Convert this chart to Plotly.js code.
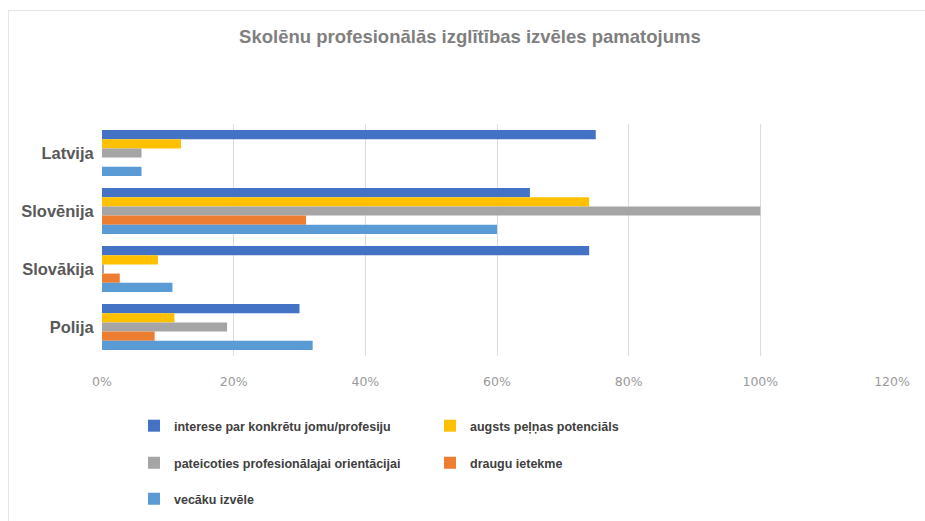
<!DOCTYPE html>
<html>
<head>
<meta charset="utf-8">
<script src="https://cdn.plot.ly/plotly-3.0.1.min.js"></script>
<style>
html,body{margin:0;padding:0;background:#fff;overflow:hidden;width:925px;height:521px;}
#frame{position:absolute;left:8px;top:10px;width:960px;height:560px;border:1px solid #e6e6e6;box-sizing:border-box;}
#chart{position:absolute;left:0;top:0;width:925px;height:521px;}
</style>
</head>
<body>
<div id="frame"></div>
<div id="chart"></div>
<script>
const countries = ["Latvija", "Slovēnija", "Slovākija", "Polija"];
const seriesNames = [
  "interese par konkrētu jomu/profesiju",
  "augsts peļņas potenciāls",
  "pateicoties profesionālajai orientācijai",
  "draugu ietekme",
  "vecāku izvēle"
];
const interese = [0.75, 0.65, 0.74, 0.30];
const augsts = [0.12, 0.74, 0.085, 0.11];
const pateicoties = [0.06, 1.00, 0.003, 0.19];
const draugu = [0.0, 0.31, 0.027, 0.08];
const vecaku = [0.06, 0.60, 0.107, 0.32];
const xTicks = [0, 0.2, 0.4, 0.6, 0.8, 1.0, 1.2];
const xTickLabels = ["0%", "20%", "40%", "60%", "80%", "100%", "120%"];

const colors = ["#4472C4", "#FFC000", "#A5A5A5", "#ED7D31", "#5B9BD5"];
const values = [interese, augsts, pateicoties, draugu, vecaku];
const legends = ["legend", "legend", "legend2", "legend2", "legend3"];

const traces = values.map((v, i) => ({
  type: "bar",
  orientation: "h",
  name: seriesNames[i],
  x: v,
  y: countries,
  marker: {color: colors[i]},
  legend: legends[i],
  hoverinfo: "x+name"
}));

const legendBase = {
  orientation: "h",
  x: 0.0405,
  xanchor: "left",
  yanchor: "middle",
  entrywidth: 251,
  entrywidthmode: "pixels",
  font: {family: "Liberation Sans, Arial, sans-serif", size: 12.5, color: "#404040", weight: "bold"},
  bgcolor: "rgba(0,0,0,0)",
  traceorder: "normal"
};

const layout = {
  width: 925,
  height: 521,
  margin: {l: 102, r: 33, t: 124, b: 165, autoexpand: false},
  paper_bgcolor: "rgba(0,0,0,0)",
  plot_bgcolor: "#fff",
  barmode: "group",
  bargap: 0.21,
  bargroupgap: 0,
  title: {
    text: "<b>Skolēnu profesionālās izglītības izvēles pamatojums</b>",
    font: {family: "Liberation Sans, Arial, sans-serif", size: 18.5, color: "#7f7f7f"},
    x: 0.508, xanchor: "center", xref: "container",
    y: 0.929, yanchor: "middle", yref: "container"
  },
  xaxis: {
    range: [0, 1.2],
    tickvals: xTicks,
    ticktext: xTickLabels,
    showgrid: true,
    gridcolor: "#dcdcdc",
    gridwidth: 1,
    zeroline: false,
    showline: false,
    ticks: "outside",
    ticklen: 14,
    tickcolor: "rgba(0,0,0,0)",
    tickfont: {family: "DejaVu Sans, sans-serif", size: 12.5, color: "#9a9a9a"}
  },
  yaxis: {
    autorange: "reversed",
    showgrid: false,
    zeroline: false,
    showline: false,
    ticks: "outside",
    ticklen: 4,
    tickcolor: "rgba(0,0,0,0)",
    tickfont: {family: "Liberation Sans, Arial, sans-serif", size: 16.5, color: "#595959", weight: "bold"}
  },
  showlegend: true,
  legend: Object.assign({}, legendBase, {y: -0.302}),
  legend2: Object.assign({}, legendBase, {y: -0.462}),
  legend3: Object.assign({}, legendBase, {y: -0.617})
};

Plotly.newPlot("chart", traces, layout, {displayModeBar: false, staticPlot: true});
</script>
</body>
</html>
